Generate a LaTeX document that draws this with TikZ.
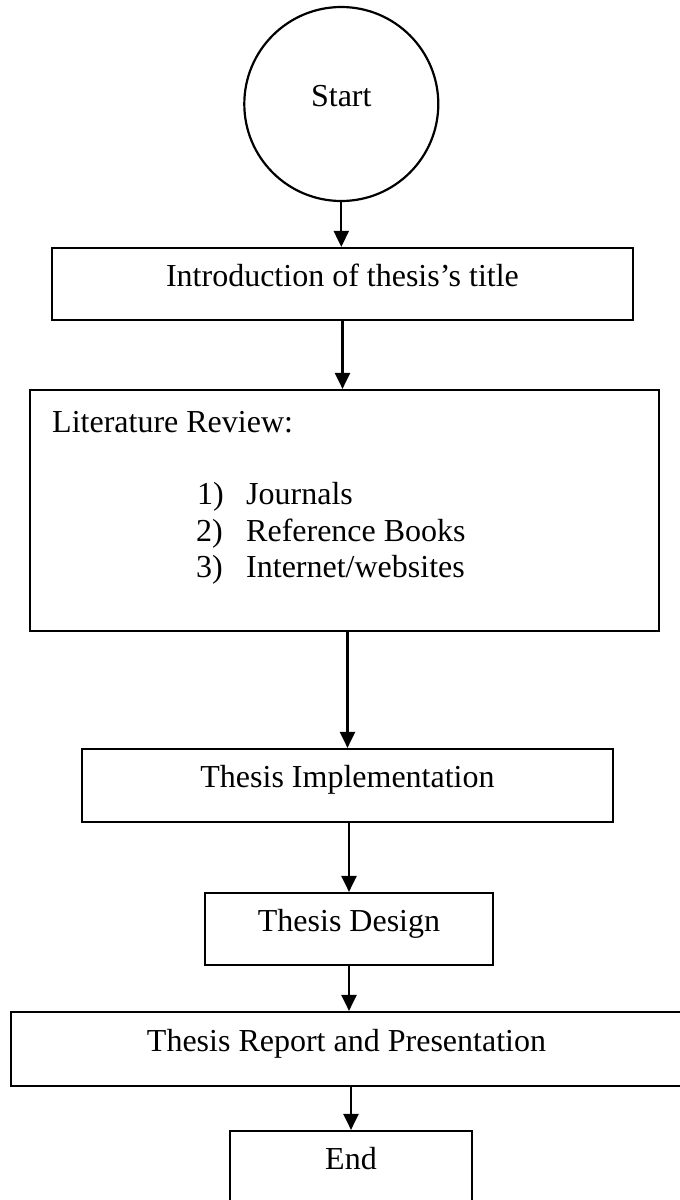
\documentclass[tikz,border=0pt]{standalone}
\usepackage{fontspec}
\setmainfont{Liberation Serif}
\usetikzlibrary{arrows.meta}
\begin{document}
\begin{tikzpicture}[x=1pt,y=-1pt,
  box/.style={draw, line width=2.2pt, rectangle, inner sep=0pt,
    font=\fontsize{32}{36.7}\selectfont, text height=0.68em, text depth=0.2em},
  arr/.style={line width=2.2pt, -{Triangle[length=16pt,width=15pt]}},
  txt/.style={font=\fontsize{32}{36.7}\selectfont, inner sep=0pt, anchor=base west}]
\useasboundingbox (0,0) rectangle (680,1200);
\node[box, circle, minimum size=194pt] (start) at (341.3,104) {Start};
\node[box, minimum width=581pt, minimum height=72pt] (b1) at (342.5,284) {Introduction of thesis's title};
\node[box, minimum width=629pt, minimum height=241pt] (b2) at (344.5,510.5) {};
\node[txt] (lr) at (52,432) {Literature Review:};
\node[txt] (n1) at (197,504.5) {1)};
\node[txt] (n2) at (196,541) {2)};
\node[txt] (n3) at (196,577.5) {3)};
\node[txt] (i1) at (246,504.5) {Journals};
\node[txt] (i2) at (246,541) {Reference Books};
\node[txt] (i3) at (246,577.5) {Internet/websites};
\node[box, minimum width=531pt, minimum height=73pt] (b3) at (347.5,785.5) {Thesis Implementation};
\node[box, minimum width=288pt, minimum height=72pt] (b4) at (349,929) {Thesis Design};
\node[box, minimum width=671pt, minimum height=74pt] (b5) at (346.5,1049) {Thesis Report and Presentation};
\node[box, minimum width=242pt, minimum height=73pt, text depth=0.26em] (b6) at (351,1167.5) {End};
\draw[arr] (start.south) -- (start.south |- b1.north);
\draw[arr] (b1.south) -- (b1.south |- b2.north);
\draw[arr] (b3.north |- b2.south) -- (b3.north);
\draw[arr] (b4.north |- b3.south) -- (b4.north);
\draw[arr] (b4.south) -- (b4.south |- b5.north);
\draw[arr] (b6.north |- b5.south) -- (b6.north);
\end{tikzpicture}
\end{document}
